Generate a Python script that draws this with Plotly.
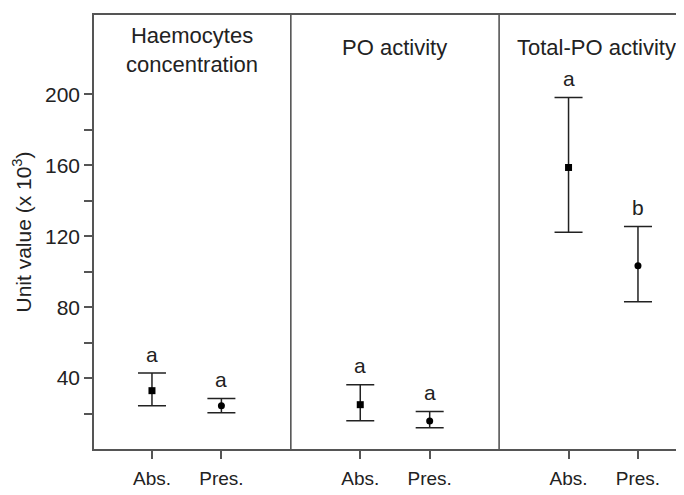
import plotly.graph_objects as go

# ---- data ----
positions = [1, 2, 4, 5, 7, 8]
groups = ["Abs.", "Pres.", "Abs.", "Pres.", "Abs.", "Pres."]
means = [32.9, 24.4, 25.0, 15.8, 158.8, 103.4]
upper = [42.8, 28.5, 36.2, 21.2, 198.3, 125.5]
lower = [24.4, 20.5, 16.0, 12.0, 122.2, 83.1]
letters = ["a", "a", "a", "a", "a", "b"]

panel_titles = ["Haemocytes<br>concentration", "PO activity", "Total-PO activity"]
panel_title_x = [1.58, 4.5, 7.4]
panel_title_y = [0.919, 0.924, 0.924]
dividers = [3, 6]

y_tick_vals = [40, 80, 120, 160, 200]
y_tick_text = ["40", "80", "120", "160", "200"]
y_minor_vals = [20, 60, 100, 140, 180]

FONT = "Liberation Sans, Arial, sans-serif"
TXT = "#222222"
AX = "#555555"

fig = go.Figure()

for grp, sym in [("Abs.", "square"), ("Pres.", "circle")]:
    idx = [i for i, g in enumerate(groups) if g == grp]
    fig.add_trace(go.Scatter(
        x=[positions[i] for i in idx],
        y=[means[i] for i in idx],
        mode="markers",
        marker=dict(symbol=sym, size=7, color="#000000"),
        error_y=dict(
            type="data", symmetric=False,
            array=[upper[i] - means[i] for i in idx],
            arrayminus=[means[i] - lower[i] for i in idx],
            color="#222222", thickness=1.5, width=14,
        ),
        showlegend=False,
        hoverinfo="skip",
    ))

annotations = []
for p, u, l in zip(positions, upper, letters):
    annotations.append(dict(
        x=p, y=u, xref="x", yref="y", text=l, showarrow=False,
        yanchor="middle", yshift=19,
        font=dict(family=FONT, size=21, color=TXT),
    ))
for t, tx, ty in zip(panel_titles, panel_title_x, panel_title_y):
    annotations.append(dict(
        x=tx, y=ty, xref="x", yref="paper", text=t, showarrow=False,
        xanchor="center", yanchor="middle",
        font=dict(family=FONT, size=22, color=TXT),
    ))

shapes = [
    dict(type="line", xref="x", yref="paper", x0=d, x1=d, y0=0, y1=1,
         line=dict(color=AX, width=1.6))
    for d in dividers
]

# the page body adds an 8px margin, so the figure is sized to fill the rest
fig.update_layout(
    width=676, height=487,
    margin=dict(l=86, r=0, t=7, b=46),
    paper_bgcolor="white", plot_bgcolor="white",
    font=dict(family=FONT, size=20, color=TXT),
    annotations=annotations,
    shapes=shapes,
    xaxis=dict(
        range=[0.165, 8.663],
        tickmode="array", tickvals=positions, ticktext=groups,
        ticks="outside", ticklen=8, tickcolor=AX, tickwidth=1.5,
        showline=True, linecolor=AX, linewidth=1.6, mirror=True,
        showgrid=False, zeroline=False,
        tickfont=dict(family=FONT, size=19, color=TXT),
        ticklabelstandoff=3,
    ),
    yaxis=dict(
        range=[0, 244.8],
        tickmode="array", tickvals=y_tick_vals, ticktext=y_tick_text,
        ticks="outside", ticklen=8, tickcolor=AX, tickwidth=1.5,
        minor=dict(tickmode="array", tickvals=y_minor_vals, ticks="outside",
                   ticklen=8, tickcolor=AX, tickwidth=1.5, showgrid=False),
        showline=True, linecolor=AX, linewidth=1.6, mirror=False,
        showgrid=False, zeroline=False,
        tickfont=dict(family=FONT, size=21, color=TXT),
        title=dict(text="Unit value (x 10<sup>3</sup>)",
                   font=dict(family=FONT, size=21, color=TXT), standoff=8),
    ),
)

fig.write_html("out.html")
